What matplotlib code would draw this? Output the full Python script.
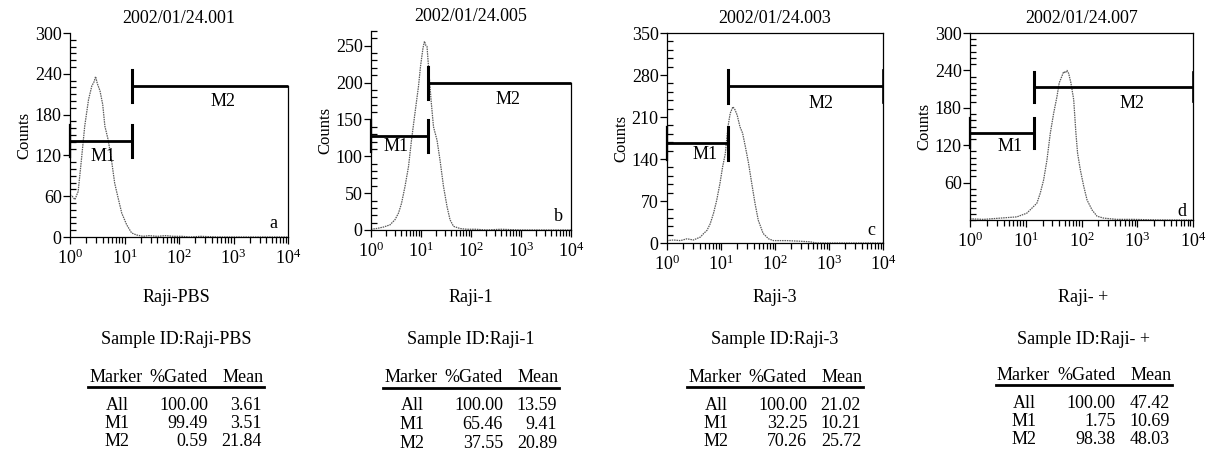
import numpy as np
import matplotlib
matplotlib.use("Agg")
import matplotlib.pyplot as plt
from matplotlib.lines import Line2D
from matplotlib.ticker import MultipleLocator, LogLocator, NullFormatter, FixedLocator

plt.rcParams['font.family'] = ['Liberation Serif', 'DejaVu Serif']
plt.rcParams['mathtext.fontset'] = 'custom'
plt.rcParams['mathtext.rm'] = 'Liberation Serif'
plt.rcParams['mathtext.it'] = 'Liberation Serif:italic'

W, H = 1212, 455

# ---- data (x as log10 of channel, y as counts) ----
titles = ["2002/01/24.001", "2002/01/24.005", "2002/01/24.003", "2002/01/24.007"]
samples = ["Raji-PBS", "Raji-1", "Raji-3", "Raji- +"]
letters = ["a", "b", "c", "d"]

a_log = [0.00, 0.04, 0.09, 0.15, 0.21, 0.27, 0.34, 0.40, 0.44, 0.47, 0.50, 0.55,
         0.60, 0.64, 0.70, 0.76, 0.82, 0.89, 0.95, 1.04, 1.13, 1.22, 1.34, 1.45,
         1.60, 1.75, 1.90, 2.05, 2.20, 2.40, 2.70, 3.00, 3.50, 4.00]
a_counts = [62, 60, 55, 67, 114, 163, 202, 222, 228, 236, 226, 215, 195, 163, 143,
            114, 79, 55, 35, 18, 6, 3, 1, 2, 1, 2, 1, 1, 0, 1, 0, 0, 0, 0]

b_log = [0.00, 0.11, 0.25, 0.38, 0.48, 0.55, 0.61, 0.68, 0.75, 0.81, 0.88, 0.95,
         0.99, 1.04, 1.07, 1.10, 1.12, 1.15, 1.20, 1.25, 1.32, 1.38, 1.45, 1.52,
         1.58, 1.65, 1.78, 1.92, 2.10, 2.30, 2.60, 3.00, 3.50, 4.00]
b_counts = [1, 2, 4, 7, 14, 23, 36, 59, 86, 122, 159, 195, 222, 247, 256, 250, 249,
            222, 177, 140, 122, 95, 59, 32, 14, 5, 2, 1, 1, 0, 1, 0, 0, 0]

c_log = [0.00, 0.12, 0.25, 0.37, 0.49, 0.62, 0.68, 0.74, 0.80, 0.86, 0.92, 0.98,
         1.03, 1.08, 1.11, 1.14, 1.17, 1.22, 1.26, 1.30, 1.35, 1.40, 1.45, 1.51,
         1.57, 1.63, 1.69, 1.78, 1.88, 1.97, 2.22, 2.46, 2.65, 2.77, 3.20, 4.00]
c_counts = [4, 5, 4, 7, 5, 10, 16, 21, 32, 49, 71, 99, 127, 149, 177, 200, 216, 227,
            222, 213, 194, 183, 161, 133, 99, 66, 38, 16, 7, 4, 4, 3, 2, 0, 0, 0]

d_log = [0.00, 0.24, 0.54, 0.84, 1.02, 1.11, 1.20, 1.26, 1.32, 1.38, 1.44, 1.50,
         1.56, 1.60, 1.65, 1.68, 1.71, 1.74, 1.77, 1.81, 1.86, 1.90, 1.93, 1.98,
         2.04, 2.10, 2.19, 2.28, 2.40, 2.63, 2.93, 3.40, 4.00]
d_counts = [2, 1, 3, 5, 11, 19, 27, 43, 64, 96, 139, 171, 198, 220, 231, 238, 236,
            240, 235, 220, 193, 139, 107, 80, 54, 32, 16, 6, 3, 1, 1, 0, 0]

curves_log = [a_log, b_log, c_log, d_log]
curves_counts = [a_counts, b_counts, c_counts, d_counts]

# gates: (start, end, height) in channel units / counts
m1_gates = [(1, 14.0, 141), (1, 13.6, 128), (1, 13.4, 166), (1, 13.8, 139)]
m2_gates = [(14.0, 1e4, 222), (13.6, 1e4, 199), (13.4, 1e4, 261), (13.8, 1e4, 213)]

# tables
markers = ["All", "M1", "M2"]
gated = [["100.00", "99.49", "0.59"],
         ["100.00", "65.46", "37.55"],
         ["100.00", "32.25", "70.26"],
         ["100.00", "1.75", "98.38"]]
means = [["3.61", "3.51", "21.84"],
         ["13.59", "9.41", "20.89"],
         ["21.02", "10.21", "25.72"],
         ["47.42", "10.69", "48.03"]]

# axis setups
ymax = [300, 270, 350, 300]
ymajor = [60, 50, 70, 60]
yminor = [10, 10, 14, 10]
ylabels_from = [0, 0, 0, 60]

# layout in pixels: left, top, right, bottom
rects = [(70, 33, 288, 237), (371, 31, 571, 230), (667, 33, 883, 243), (970, 33, 1193, 220)]
full_box = [False, False, True, True]
table_shift = [-3, 0, 0, 2]
table_top = [377, 378, 377, 375]
letter_pos = [(10**3.73, 20), (10**3.75, 18), (10**3.78, 21), (10**3.80, 13)]
m1_text = [(10**0.61, 118), (10**0.51, 113), (10**0.71, 147), (10**0.72, 118)]
m2_text = [(10**2.81, 200), (10**2.75, 177), (10**2.86, 233), (10**2.90, 187)]

FS = 13


def fx(x):
    return x / W


def fy(y):
    return 1 - y / H


fig = plt.figure(figsize=(W / 100, H / 100), dpi=100)

for i in range(4):
    l, t, r, b = rects[i]
    ax = fig.add_axes([fx(l), fy(b), (r - l) / W, (b - t) / H])
    x = 10 ** np.array(curves_log[i])
    ax.plot(x, curves_counts[i], color="0.35", lw=0.9, linestyle=(0, (1.2, 0.7)))

    ax.set_xscale("log")
    ax.set_xlim(1, 1e4)
    ax.set_ylim(0, ymax[i])
    ax.yaxis.set_major_locator(FixedLocator(np.arange(ylabels_from[i], ymax[i] + 1, ymajor[i])))
    ax.yaxis.set_minor_locator(MultipleLocator(yminor[i]))
    ax.xaxis.set_major_locator(LogLocator(base=10, numticks=10))
    ax.xaxis.set_minor_locator(LogLocator(base=10, subs=np.arange(2, 10), numticks=20))
    ax.xaxis.set_minor_formatter(NullFormatter())
    ax.tick_params(axis="both", which="major", labelsize=FS, direction="out", length=5, width=0.9)
    ax.tick_params(axis="y", which="minor", direction="in", length=4, width=0.9)
    ax.tick_params(axis="x", which="minor", direction="out", length=4, width=0.9)
    ax.tick_params(axis="x", which="major", pad=3)
    ax.tick_params(axis="y", which="major", pad=1)

    for s in ax.spines.values():
        s.set_linewidth(0.9)
    if not full_box[i]:
        ax.spines["top"].set_visible(False)
        ax.spines["right"].set_bounds(0, m2_gates[i][2])

    ax.set_ylabel("Counts", fontsize=12, labelpad=2)
    ax.set_title(titles[i], fontsize=FS, pad=7)

    # gate markers
    hh = 0.08 * ymax[i]
    g0, g1, gy = m1_gates[i]
    ax.plot([g0, g1], [gy, gy], color="black", lw=2, clip_on=False, solid_capstyle="butt")
    ax.plot([g0, g0], [gy - hh, gy + hh], color="black", lw=1.6, clip_on=False)
    ax.plot([g1, g1], [gy - hh, gy + hh], color="black", lw=2.2, clip_on=False)
    g0, g1, gy = m2_gates[i]
    ax.plot([g0, g1], [gy, gy], color="black", lw=2, clip_on=False, solid_capstyle="butt")
    ax.plot([g0, g0], [gy - hh, gy + hh], color="black", lw=2.2, clip_on=False)
    if full_box[i]:
        ax.plot([g1, g1], [gy - hh, gy + hh], color="black", lw=1.2, clip_on=False)

    ax.text(*m1_text[i], "M1", fontsize=FS, ha="center", va="center")
    ax.text(*m2_text[i], "M2", fontsize=FS, ha="center", va="center")
    ax.text(*letter_pos[i], letters[i], fontsize=FS, ha="center", va="center")

    # labels and table beneath
    cx = (l + r) / 2 + table_shift[i]
    fig.text(fx(cx), fy(298), samples[i], fontsize=FS, ha="center", va="center")
    fig.text(fx(cx), fy(340), "Sample ID:" + samples[i], fontsize=FS, ha="center", va="center")
    ty = table_top[i]
    fig.text(fx(cx - 60), fy(ty), "Marker", fontsize=FS, ha="center", va="center")
    fig.text(fx(cx + 32), fy(ty), "%Gated", fontsize=FS, ha="right", va="center")
    fig.text(fx(cx + 88), fy(ty), "Mean", fontsize=FS, ha="right", va="center")
    fig.add_artist(Line2D([fx(cx - 88), fx(cx + 88)], [fy(ty + 10), fy(ty + 10)],
                          transform=fig.transFigure, color="black", lw=2))
    for k, m in enumerate(markers):
        ry = ty + 28 + k * 18.5
        fig.text(fx(cx - 59), fy(ry), m, fontsize=FS, ha="center", va="center")
        fig.text(fx(cx + 32), fy(ry), gated[i][k], fontsize=FS, ha="right", va="center")
        fig.text(fx(cx + 86), fy(ry), means[i][k], fontsize=FS, ha="right", va="center")

fig.savefig("out.png", dpi=100)
